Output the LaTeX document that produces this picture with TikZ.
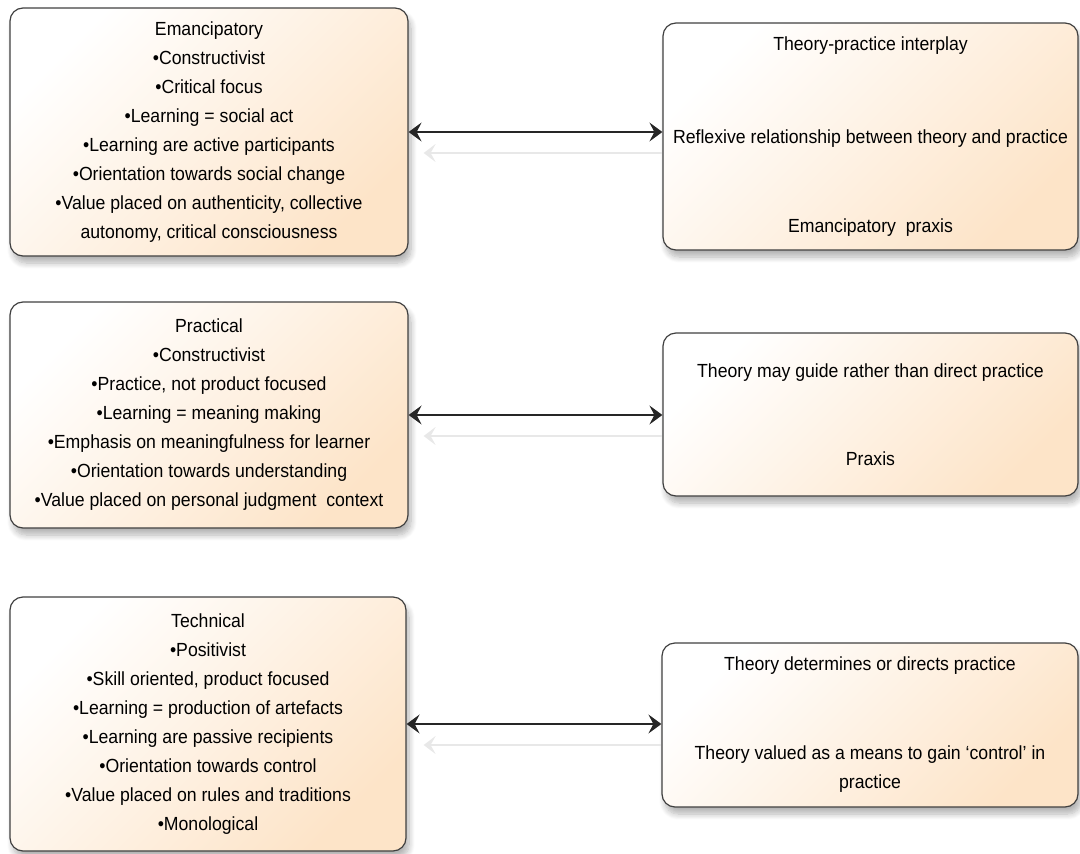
\documentclass[tikz,border=0pt]{standalone}
\usepackage{fontspec}
\setmainfont{Liberation Sans}[FakeStretch=0.93]
\usetikzlibrary{arrows.meta,shadows.blur}
\definecolor{peach}{RGB}{253,228,200}
\definecolor{boxline}{RGB}{64,64,64}
\definecolor{ghost}{RGB}{232,232,232}

\begin{document}
\begin{tikzpicture}[x=1pt,y=-1pt,
  box/.style={draw=boxline,line width=1.2pt,rounded corners=13pt,
    top color=white,bottom color=peach,shading angle=45,
    blur shadow={shadow xshift=3pt,shadow yshift=-7pt,shadow blur radius=6pt,shadow blur steps=8,shadow opacity=30},
    inner sep=0pt,align=center,font=\fontsize{19}{29}\selectfont},
  link/.style={{Stealth[length=13pt,width=19pt,inset=5pt]}-{Stealth[length=13pt,width=19pt,inset=5pt]},line width=1.4pt,black!85},
  echo/.style={{Stealth[length=12pt,width=18pt,inset=5pt]}-,line width=2pt,ghost}]
\useasboundingbox (0,0) rectangle (1080,854);
% left column
\node[box,minimum width=398pt,minimum height=248pt] (emanc) at (209,132)
  {Emancipatory\\ •Constructivist\\ •Critical focus\\ •Learning = social act\\
   •Learning are active participants\\ •Orientation towards social change\\
   •Value placed on authenticity, collective\\ autonomy, critical consciousness};
\node[box,minimum width=398pt,minimum height=226pt] (practical) at (209,415)
  {Practical\\ •Constructivist\\ •Practice, not product focused\\ •Learning = meaning making\\
   •Emphasis on meaningfulness for learner\\ •Orientation towards understanding\\
   •Value placed on personal judgment\ \ context};
\node[box,minimum width=396pt,minimum height=254pt] (technical) at (208,724)
  {Technical\\ •Positivist\\ •Skill oriented, product focused\\ •Learning = production of artefacts\\
   •Learning are passive recipients\\ •Orientation towards control\\
   •Value placed on rules and traditions\\ •Monological};
% right column
\node[box,minimum width=415pt,minimum height=227pt] (interplay) at (870.5,136.5)
  {Theory-practice interplay\\[64pt] Reflexive relationship between theory and practice\\[60pt]
   Emancipatory\ \ praxis};
\node[box,minimum width=415pt,minimum height=163pt] (guide) at (870.5,414.5)
  {Theory may guide rather than direct practice\\[59pt] Praxis};
\node[box,minimum width=416pt,minimum height=164pt] (determines) at (870,725)
  {Theory determines or directs practice\\[60pt] Theory valued as a means to gain ‘control’ in\\ practice};
% connectors
\draw[echo] ([xshift=15pt,yshift=-21pt]emanc.east) -- ([yshift=-21pt]emanc.east -| interplay.west);
\draw[echo] ([xshift=15pt,yshift=-21pt]practical.east) -- ([yshift=-21pt]practical.east -| guide.west);
\draw[echo] ([xshift=17pt,yshift=-21pt]technical.east) -- ([yshift=-21pt]technical.east -| determines.west);
\draw[link] (emanc.east) -- (emanc.east -| interplay.west);
\draw[link] (practical.east) -- (practical.east -| guide.west);
\draw[link] (technical.east) -- (technical.east -| determines.west);
\end{tikzpicture}
\end{document}
